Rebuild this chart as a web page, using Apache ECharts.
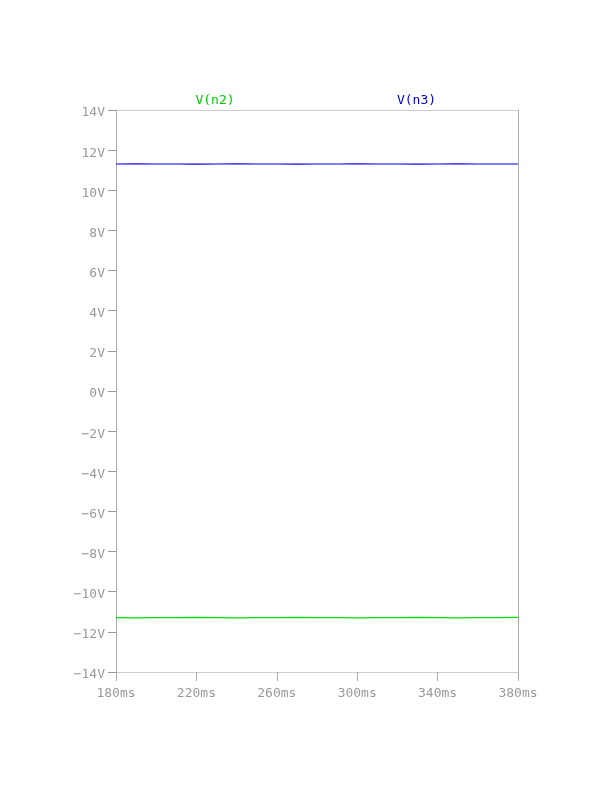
<!DOCTYPE html>
<html><head><meta charset="utf-8">
<script src="https://cdn.jsdelivr.net/npm/echarts@6/dist/echarts.min.js"></script>
<style>html,body{margin:0;padding:0;background:#fff}#c{width:612px;height:792px}</style>
</head><body><div id="c"></div>
<script>
var timeMs = [180,190,200,210,220,230,240,250,260,270,280,290,300,310,320,330,340,350,360,370,380];
var vn3 = [11.31,11.32,11.31,11.31,11.30,11.31,11.32,11.31,11.31,11.30,11.31,11.31,11.32,11.31,11.31,11.30,11.31,11.32,11.31,11.31,11.31];
var vn2 = [-11.29,-11.30,-11.29,-11.29,-11.28,-11.29,-11.30,-11.29,-11.29,-11.28,-11.29,-11.29,-11.30,-11.29,-11.29,-11.28,-11.29,-11.30,-11.29,-11.29,-11.28];
var xTicks = [180,220,260,300,340,380];
var seriesNames = ['V(n2)','V(n3)'];

var font = 'DejaVu Sans Mono';
var chart = echarts.init(document.getElementById('c'));
function pairs(xs, ys){ return xs.map(function(x,i){return [x, ys[i]];}); }
chart.setOption({
  animation:false,
  grid:{left:116,right:94,top:110,bottom:120,containLabel:false},
  graphic:[
    {type:'text',x:215,y:101,style:{text:seriesNames[0],align:'center',verticalAlign:'middle',font:'13px "DejaVu Sans Mono"',fill:'#00cc00'}},
    {type:'text',x:416.5,y:101,style:{text:seriesNames[1],align:'center',verticalAlign:'middle',font:'13px "DejaVu Sans Mono"',fill:'#0000cc'}}
  ],
  xAxis:[{
    type:'value',min:180,max:380,
    axisLine:{show:true,onZero:false,lineStyle:{color:'#cccccc',width:1}},
    axisTick:{show:true,length:9,customValues:xTicks,lineStyle:{color:'#aaaaaa'}},
    axisLabel:{customValues:xTicks,margin:15,fontFamily:font,fontSize:13,color:'#999999',formatter:function(v){return v+'ms';}},
    splitLine:{show:false}
  },{
    type:'value',position:'top',min:180,max:380,
    axisLine:{show:true,onZero:false,lineStyle:{color:'#cccccc'}},
    axisTick:{show:false},axisLabel:{show:false},splitLine:{show:false}
  }],
  yAxis:[{
    type:'value',min:-14,max:14,interval:2,
    axisLine:{show:true,onZero:false,lineStyle:{color:'#aaaaaa'}},
    axisTick:{show:true,length:8,lineStyle:{color:'#999999'}},
    axisLabel:{margin:11,fontFamily:font,fontSize:13,color:'#999999',
      formatter:function(v){return '{v|' + (v<0?'\u2212'+Math.abs(v):v)+'V}';},
      rich:{v:{fontFamily:font,fontSize:13,color:'#999999',padding:[6,0,0,0]}}},
    splitLine:{show:false}
  },{
    type:'value',position:'right',min:-14,max:14,
    axisLine:{show:true,onZero:false,lineStyle:{color:'#aaaaaa'}},
    axisTick:{show:false},axisLabel:{show:false},splitLine:{show:false}
  }],
  series:[
    {name:seriesNames[0],type:'line',showSymbol:false,data:pairs(timeMs,vn2),lineStyle:{color:'#00e000',width:1.2}},
    {name:seriesNames[1],type:'line',showSymbol:false,data:pairs(timeMs,vn3),lineStyle:{color:'#0000ff',width:1.2}}
  ]
});
</script></body></html>
